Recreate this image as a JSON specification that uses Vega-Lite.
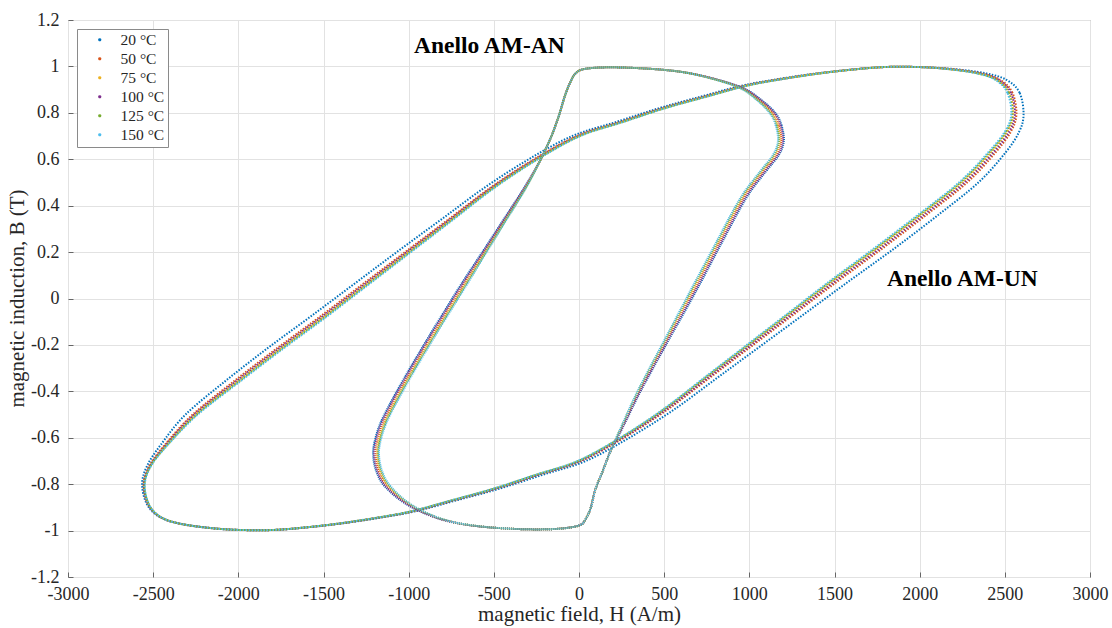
{
  "$schema": "https://vega.github.io/schema/vega-lite/v6.json",
  "width": 1022,
  "height": 557,
  "autosize": {"type": "none"},
  "padding": {"left": 68, "top": 20, "right": 22, "bottom": 51},
  "background": "white",
  "config": {
    "font": "Liberation Serif",
    "view": {"stroke": "#8a8a8a", "strokeWidth": 1},
    "axis": {
      "grid": true,
      "gridColor": "#e2e2e2",
      "gridWidth": 1,
      "domain": false,
      "tickColor": "#666666",
      "tickSize": -5,
      "labelPadding": 9,
      "labelFont": "Liberation Serif",
      "labelFontSize": 18,
      "labelColor": "#262626",
      "labelFlush": false,
      "labelOverlap": false,
      "labelBound": false,
      "titleFont": "Liberation Serif",
      "titleFontSize": 21,
      "titleFontWeight": "normal",
      "titleColor": "#262626"
    }
  },
  "datasets": {
    "loops": [
      {"L":"UN","i":0,"B":0.794,"20 °C":2610,"50 °C":2568,"75 °C":2550,"100 °C":2559,"125 °C":2544,"150 °C":2538},
      {"L":"UN","i":1,"B":0.886,"20 °C":2587,"50 °C":2545,"75 °C":2527,"100 °C":2536,"125 °C":2521,"150 °C":2515},
      {"L":"UN","i":2,"B":0.94,"20 °C":2515,"50 °C":2477,"75 °C":2460,"100 °C":2468,"125 °C":2454,"150 °C":2449},
      {"L":"UN","i":3,"B":0.97,"20 °C":2390,"50 °C":2359,"75 °C":2345,"100 °C":2352,"125 °C":2340,"150 °C":2336},
      {"L":"UN","i":4,"B":0.99,"20 °C":2180,"50 °C":2159,"75 °C":2150,"100 °C":2155,"125 °C":2147,"150 °C":2144},
      {"L":"UN","i":5,"B":0.998,"20 °C":1970,"50 °C":1960,"75 °C":1955,"100 °C":1957,"125 °C":1953,"150 °C":1952},
      {"L":"UN","i":6,"B":0.996,"20 °C":1760,"50 °C":1760,"75 °C":1760,"100 °C":1760,"125 °C":1760,"150 °C":1760},
      {"L":"UN","i":7,"B":0.978,"20 °C":1490,"50 °C":1497,"75 °C":1500,"100 °C":1498,"125 °C":1501,"150 °C":1502},
      {"L":"UN","i":8,"B":0.955,"20 °C":1253,"50 °C":1267,"75 °C":1273,"100 °C":1270,"125 °C":1275,"150 °C":1277},
      {"L":"UN","i":9,"B":0.92,"20 °C":975,"50 °C":992,"75 °C":1000,"100 °C":996,"125 °C":1003,"150 °C":1005},
      {"L":"UN","i":10,"B":0.87,"20 °C":716,"50 °C":737,"75 °C":746,"100 °C":741,"125 °C":749,"150 °C":752},
      {"L":"UN","i":11,"B":0.82,"20 °C":470,"50 °C":491,"75 °C":500,"100 °C":495,"125 °C":503,"150 °C":506},
      {"L":"UN","i":12,"B":0.76,"20 °C":215,"50 °C":240,"75 °C":250,"100 °C":245,"125 °C":254,"150 °C":257},
      {"L":"UN","i":13,"B":0.70,"20 °C":-40,"50 °C":-12,"75 °C":0,"100 °C":-6,"125 °C":4,"150 °C":8},
      {"L":"UN","i":14,"B":0.60,"20 °C":-295,"50 °C":-264,"75 °C":-250,"100 °C":-257,"125 °C":-245,"150 °C":-241},
      {"L":"UN","i":15,"B":0.48,"20 °C":-550,"50 °C":-515,"75 °C":-500,"100 °C":-508,"125 °C":-495,"150 °C":-490},
      {"L":"UN","i":16,"B":0.34,"20 °C":-810,"50 °C":-768,"75 °C":-750,"100 °C":-759,"125 °C":-744,"150 °C":-738},
      {"L":"UN","i":17,"B":0.20,"20 °C":-1070,"50 °C":-1021,"75 °C":-1000,"100 °C":-1011,"125 °C":-993,"150 °C":-986},
      {"L":"UN","i":18,"B":0.06,"20 °C":-1325,"50 °C":-1273,"75 °C":-1250,"100 °C":-1261,"125 °C":-1242,"150 °C":-1235},
      {"L":"UN","i":19,"B":-0.08,"20 °C":-1580,"50 °C":-1524,"75 °C":-1500,"100 °C":-1512,"125 °C":-1492,"150 °C":-1484},
      {"L":"UN","i":20,"B":-0.215,"20 °C":-1830,"50 °C":-1774,"75 °C":-1750,"100 °C":-1762,"125 °C":-1742,"150 °C":-1734},
      {"L":"UN","i":21,"B":-0.355,"20 °C":-2075,"50 °C":-2023,"75 °C":-2000,"100 °C":-2011,"125 °C":-1992,"150 °C":-1985},
      {"L":"UN","i":22,"B":-0.50,"20 °C":-2310,"50 °C":-2268,"75 °C":-2250,"100 °C":-2259,"125 °C":-2244,"150 °C":-2238},
      {"L":"UN","i":23,"B":-0.63,"20 °C":-2455,"50 °C":-2431,"75 °C":-2420,"100 °C":-2425,"125 °C":-2416,"150 °C":-2413},
      {"L":"UN","i":24,"B":-0.72,"20 °C":-2535,"50 °C":-2521,"75 °C":-2515,"100 °C":-2518,"125 °C":-2513,"150 °C":-2511},
      {"L":"UN","i":25,"B":-0.80,"20 °C":-2565,"50 °C":-2556,"75 °C":-2552,"100 °C":-2554,"125 °C":-2551,"150 °C":-2549},
      {"L":"UN","i":26,"B":-0.886,"20 °C":-2537,"50 °C":-2530,"75 °C":-2527,"100 °C":-2529,"125 °C":-2526,"150 °C":-2525},
      {"L":"UN","i":27,"B":-0.94,"20 °C":-2465,"50 °C":-2462,"75 °C":-2460,"100 °C":-2461,"125 °C":-2460,"150 °C":-2459},
      {"L":"UN","i":28,"B":-0.97,"20 °C":-2345,"50 °C":-2345,"75 °C":-2345,"100 °C":-2345,"125 °C":-2345,"150 °C":-2345},
      {"L":"UN","i":29,"B":-0.99,"20 °C":-2150,"50 °C":-2150,"75 °C":-2150,"100 °C":-2150,"125 °C":-2150,"150 °C":-2150},
      {"L":"UN","i":30,"B":-0.998,"20 °C":-1955,"50 °C":-1955,"75 °C":-1955,"100 °C":-1955,"125 °C":-1955,"150 °C":-1955},
      {"L":"UN","i":31,"B":-0.996,"20 °C":-1755,"50 °C":-1758,"75 °C":-1760,"100 °C":-1759,"125 °C":-1761,"150 °C":-1761},
      {"L":"UN","i":32,"B":-0.978,"20 °C":-1490,"50 °C":-1497,"75 °C":-1500,"100 °C":-1498,"125 °C":-1501,"150 °C":-1502},
      {"L":"UN","i":33,"B":-0.955,"20 °C":-1258,"50 °C":-1268,"75 °C":-1273,"100 °C":-1271,"125 °C":-1275,"150 °C":-1276},
      {"L":"UN","i":34,"B":-0.92,"20 °C":-980,"50 °C":-994,"75 °C":-1000,"100 °C":-997,"125 °C":-1002,"150 °C":-1004},
      {"L":"UN","i":35,"B":-0.87,"20 °C":-721,"50 °C":-738,"75 °C":-746,"100 °C":-742,"125 °C":-749,"150 °C":-751},
      {"L":"UN","i":36,"B":-0.82,"20 °C":-470,"50 °C":-491,"75 °C":-500,"100 °C":-495,"125 °C":-503,"150 °C":-506},
      {"L":"UN","i":37,"B":-0.76,"20 °C":-215,"50 °C":-240,"75 °C":-250,"100 °C":-245,"125 °C":-254,"150 °C":-257},
      {"L":"UN","i":38,"B":-0.70,"20 °C":40,"50 °C":12,"75 °C":0,"100 °C":6,"125 °C":-4,"150 °C":-8},
      {"L":"UN","i":39,"B":-0.60,"20 °C":295,"50 °C":264,"75 °C":250,"100 °C":257,"125 °C":245,"150 °C":241},
      {"L":"UN","i":40,"B":-0.48,"20 °C":555,"50 °C":517,"75 °C":500,"100 °C":508,"125 °C":494,"150 °C":489},
      {"L":"UN","i":41,"B":-0.34,"20 °C":815,"50 °C":770,"75 °C":750,"100 °C":760,"125 °C":743,"150 °C":737},
      {"L":"UN","i":42,"B":-0.20,"20 °C":1075,"50 °C":1023,"75 °C":1000,"100 °C":1011,"125 °C":992,"150 °C":985},
      {"L":"UN","i":43,"B":-0.06,"20 °C":1335,"50 °C":1276,"75 °C":1250,"100 °C":1263,"125 °C":1241,"150 °C":1233},
      {"L":"UN","i":44,"B":0.08,"20 °C":1595,"50 °C":1529,"75 °C":1500,"100 °C":1514,"125 °C":1490,"150 °C":1481},
      {"L":"UN","i":45,"B":0.215,"20 °C":1850,"50 °C":1780,"75 °C":1750,"100 °C":1765,"125 °C":1740,"150 °C":1730},
      {"L":"UN","i":46,"B":0.355,"20 °C":2100,"50 °C":2030,"75 °C":2000,"100 °C":2015,"125 °C":1990,"150 °C":1980},
      {"L":"UN","i":47,"B":0.50,"20 °C":2345,"50 °C":2279,"75 °C":2250,"100 °C":2264,"125 °C":2240,"150 °C":2231},
      {"L":"UN","i":48,"B":0.63,"20 °C":2505,"50 °C":2446,"75 °C":2420,"100 °C":2433,"125 °C":2411,"150 °C":2403},
      {"L":"UN","i":49,"B":0.72,"20 °C":2585,"50 °C":2536,"75 °C":2515,"100 °C":2526,"125 °C":2508,"150 °C":2501},
      {"L":"AN","i":0,"B":0.68,"20 °C":1203,"50 °C":1188,"75 °C":1178,"100 °C":1198,"125 °C":1173,"150 °C":1168},
      {"L":"AN","i":1,"B":0.745,"20 °C":1190,"50 °C":1175,"75 °C":1165,"100 °C":1185,"125 °C":1160,"150 °C":1155},
      {"L":"AN","i":2,"B":0.795,"20 °C":1158,"50 °C":1143,"75 °C":1133,"100 °C":1153,"125 °C":1128,"150 °C":1123},
      {"L":"AN","i":3,"B":0.853,"20 °C":1075,"50 °C":1063,"75 °C":1055,"100 °C":1071,"125 °C":1051,"150 °C":1047},
      {"L":"AN","i":4,"B":0.911,"20 °C":950,"50 °C":942,"75 °C":937,"100 °C":947,"125 °C":934,"150 °C":932},
      {"L":"AN","i":5,"B":0.962,"20 °C":708,"50 °C":705,"75 °C":703,"100 °C":707,"125 °C":702,"150 °C":701},
      {"L":"AN","i":6,"B":0.985,"20 °C":500,"50 °C":500,"75 °C":500,"100 °C":500,"125 °C":500,"150 °C":500},
      {"L":"AN","i":7,"B":0.996,"20 °C":215,"50 °C":215,"75 °C":215,"100 °C":215,"125 °C":215,"150 °C":215},
      {"L":"AN","i":8,"B":0.99,"20 °C":40,"50 °C":40,"75 °C":40,"100 °C":40,"125 °C":40,"150 °C":40},
      {"L":"AN","i":9,"B":0.97,"20 °C":-20,"50 °C":-20,"75 °C":-20,"100 °C":-20,"125 °C":-20,"150 °C":-20},
      {"L":"AN","i":10,"B":0.93,"20 °C":-52,"50 °C":-52,"75 °C":-52,"100 °C":-52,"125 °C":-52,"150 °C":-52},
      {"L":"AN","i":11,"B":0.875,"20 °C":-82,"50 °C":-82,"75 °C":-82,"100 °C":-82,"125 °C":-82,"150 °C":-82},
      {"L":"AN","i":12,"B":0.79,"20 °C":-117,"50 °C":-117,"75 °C":-117,"100 °C":-117,"125 °C":-117,"150 °C":-117},
      {"L":"AN","i":13,"B":0.71,"20 °C":-156,"50 °C":-156,"75 °C":-156,"100 °C":-156,"125 °C":-156,"150 °C":-156},
      {"L":"AN","i":14,"B":0.645,"20 °C":-195,"50 °C":-195,"75 °C":-195,"100 °C":-195,"125 °C":-195,"150 °C":-195},
      {"L":"AN","i":15,"B":0.586,"20 °C":-234,"50 °C":-234,"75 °C":-234,"100 °C":-234,"125 °C":-234,"150 °C":-234},
      {"L":"AN","i":16,"B":0.479,"20 °C":-320,"50 °C":-315,"75 °C":-312,"100 °C":-318,"125 °C":-310,"150 °C":-309},
      {"L":"AN","i":17,"B":0.34,"20 °C":-443,"50 °C":-435,"75 °C":-430,"100 °C":-440,"125 °C":-427,"150 °C":-425},
      {"L":"AN","i":18,"B":0.203,"20 °C":-565,"50 °C":-554,"75 °C":-547,"100 °C":-561,"125 °C":-543,"150 °C":-540},
      {"L":"AN","i":19,"B":0.065,"20 °C":-689,"50 °C":-674,"75 °C":-664,"100 °C":-684,"125 °C":-659,"150 °C":-654},
      {"L":"AN","i":20,"B":-0.073,"20 °C":-806,"50 °C":-791,"75 °C":-781,"100 °C":-801,"125 °C":-776,"150 °C":-771},
      {"L":"AN","i":21,"B":-0.21,"20 °C":-920,"50 °C":-905,"75 °C":-895,"100 °C":-915,"125 °C":-890,"150 °C":-885},
      {"L":"AN","i":22,"B":-0.335,"20 °C":-1020,"50 °C":-1005,"75 °C":-995,"100 °C":-1015,"125 °C":-990,"150 °C":-985},
      {"L":"AN","i":23,"B":-0.44,"20 °C":-1100,"50 °C":-1085,"75 °C":-1075,"100 °C":-1095,"125 °C":-1070,"150 °C":-1065},
      {"L":"AN","i":24,"B":-0.535,"20 °C":-1165,"50 °C":-1150,"75 °C":-1140,"100 °C":-1160,"125 °C":-1135,"150 °C":-1130},
      {"L":"AN","i":25,"B":-0.615,"20 °C":-1200,"50 °C":-1185,"75 °C":-1175,"100 °C":-1195,"125 °C":-1170,"150 °C":-1165},
      {"L":"AN","i":26,"B":-0.675,"20 °C":-1209,"50 °C":-1194,"75 °C":-1184,"100 °C":-1204,"125 °C":-1179,"150 °C":-1174},
      {"L":"AN","i":27,"B":-0.745,"20 °C":-1190,"50 °C":-1175,"75 °C":-1165,"100 °C":-1185,"125 °C":-1160,"150 °C":-1155},
      {"L":"AN","i":28,"B":-0.81,"20 °C":-1140,"50 °C":-1125,"75 °C":-1115,"100 °C":-1135,"125 °C":-1110,"150 °C":-1105},
      {"L":"AN","i":29,"B":-0.886,"20 °C":-1014,"50 °C":-1003,"75 °C":-996,"100 °C":-1010,"125 °C":-992,"150 °C":-989},
      {"L":"AN","i":30,"B":-0.947,"20 °C":-830,"50 °C":-824,"75 °C":-820,"100 °C":-828,"125 °C":-818,"150 °C":-816},
      {"L":"AN","i":31,"B":-0.978,"20 °C":-630,"50 °C":-627,"75 °C":-625,"100 °C":-629,"125 °C":-624,"150 °C":-623},
      {"L":"AN","i":32,"B":-0.993,"20 °C":-371,"50 °C":-371,"75 °C":-371,"100 °C":-371,"125 °C":-371,"150 °C":-371},
      {"L":"AN","i":33,"B":-0.993,"20 °C":-137,"50 °C":-137,"75 °C":-137,"100 °C":-137,"125 °C":-137,"150 °C":-137},
      {"L":"AN","i":34,"B":-0.978,"20 °C":0,"50 °C":0,"75 °C":0,"100 °C":0,"125 °C":0,"150 °C":0},
      {"L":"AN","i":35,"B":-0.95,"20 °C":39,"50 °C":39,"75 °C":39,"100 °C":39,"125 °C":39,"150 °C":39},
      {"L":"AN","i":36,"B":-0.90,"20 °C":70,"50 °C":70,"75 °C":70,"100 °C":70,"125 °C":70,"150 °C":70},
      {"L":"AN","i":37,"B":-0.825,"20 °C":95,"50 °C":95,"75 °C":95,"100 °C":95,"125 °C":95,"150 °C":95},
      {"L":"AN","i":38,"B":-0.748,"20 °C":137,"50 °C":137,"75 °C":137,"100 °C":137,"125 °C":137,"150 °C":137},
      {"L":"AN","i":39,"B":-0.656,"20 °C":186,"50 °C":186,"75 °C":186,"100 °C":186,"125 °C":186,"150 °C":186},
      {"L":"AN","i":40,"B":-0.548,"20 °C":262,"50 °C":257,"75 °C":254,"100 °C":260,"125 °C":252,"150 °C":251},
      {"L":"AN","i":41,"B":-0.395,"20 °C":365,"50 °C":357,"75 °C":352,"100 °C":362,"125 °C":349,"150 °C":347},
      {"L":"AN","i":42,"B":-0.18,"20 °C":526,"50 °C":515,"75 °C":508,"100 °C":522,"125 °C":504,"150 °C":501},
      {"L":"AN","i":43,"B":0.034,"20 °C":689,"50 °C":674,"75 °C":664,"100 °C":684,"125 °C":659,"150 °C":654},
      {"L":"AN","i":44,"B":0.249,"20 °C":845,"50 °C":830,"75 °C":820,"100 °C":840,"125 °C":815,"150 °C":810},
      {"L":"AN","i":45,"B":0.433,"20 °C":982,"50 °C":967,"75 °C":957,"100 °C":977,"125 °C":952,"150 °C":947},
      {"L":"AN","i":46,"B":0.545,"20 °C":1095,"50 °C":1080,"75 °C":1070,"100 °C":1090,"125 °C":1065,"150 °C":1060},
      {"L":"AN","i":47,"B":0.62,"20 °C":1175,"50 °C":1160,"75 °C":1150,"100 °C":1170,"125 °C":1145,"150 °C":1140}
    ],
    "notes": [
      {"H": -969, "B": 1.088, "text": "Anello AM-AN"},
      {"H": 1808, "B": 0.082, "text": "Anello AM-UN"}
    ]
  },
  "encoding": {
    "x": {
      "field": "H", "type": "quantitative",
      "scale": {"domain": [-3000, 3000], "nice": false, "zero": false},
      "axis": {
        "title": "magnetic field, H (A/m)",
        "values": [-3000, -2500, -2000, -1500, -1000, -500, 0, 500, 1000, 1500, 2000, 2500, 3000],
        "labelExpr": "datum.value < 0 ? '-' + format(-datum.value, 'd') : format(datum.value, 'd')",
        "labelPadding": 13,
        "titleY": 37,
        "titleBaseline": "middle"
      }
    },
    "y": {
      "field": "B", "type": "quantitative",
      "scale": {"domain": [-1.2, 1.2], "nice": false, "zero": false},
      "axis": {
        "title": "magnetic induction, B (T)",
        "values": [-1.2, -1, -0.8, -0.6, -0.4, -0.2, 0, 0.2, 0.4, 0.6, 0.8, 1, 1.2],
        "labelExpr": "datum.value < 0 ? '-' + format(-datum.value, '~g') : format(datum.value, '~g')",
        "labelPadding": 14,
        "titleX": -51,
        "titleY": 278,
        "titleAlign": "center",
        "titleBaseline": "middle"
      }
    }
  },
  "layer": [
    {
      "data": {"name": "loops"},
      "transform": [
        {"filter": "datum.L === 'UN'"},
        {"fold": ["20 °C", "50 °C", "75 °C", "100 °C", "125 °C", "150 °C"], "as": ["T", "H"]}
      ],
      "mark": {"type": "line", "interpolate": "cardinal-closed", "strokeWidth": 2, "strokeDash": [1.5, 1.5], "strokeCap": "butt"},
      "encoding": {
        "color": {
          "field": "T", "type": "nominal",
          "scale": {
            "domain": ["20 °C", "50 °C", "75 °C", "100 °C", "125 °C", "150 °C"],
            "range": ["#0072BD", "#D95319", "#EDB120", "#7E2F8E", "#77AC30", "#4DBEEE"]
          },
          "legend": {
            "title": null,
            "orient": "none",
            "legendX": 9,
            "legendY": 9,
            "fillColor": "white",
            "strokeColor": "#8a8a8a",
            "padding": 3,
            "symbolType": "circle",
            "symbolSize": 3,
            "symbolStrokeWidth": 1.5,
            "symbolDash": [],
            "symbolOffset": 12,
            "labelOffset": 13,
            "labelFont": "Liberation Serif",
            "labelFontSize": 15.5,
            "labelColor": "#262626",
            "rowPadding": 2
          }
        },
        "order": {"field": "i", "type": "quantitative"}
      }
    },
    {
      "data": {"name": "loops"},
      "transform": [
        {"filter": "datum.L === 'AN'"},
        {"fold": ["20 °C", "50 °C", "75 °C", "100 °C", "125 °C", "150 °C"], "as": ["T", "H"]}
      ],
      "mark": {"type": "line", "interpolate": "cardinal-closed", "strokeWidth": 2, "strokeDash": [1, 1], "strokeCap": "butt"},
      "encoding": {
        "color": {"field": "T", "type": "nominal"},
        "order": {"field": "i", "type": "quantitative"}
      }
    },
    {
      "data": {"name": "notes"},
      "mark": {"type": "text", "align": "left", "baseline": "middle", "font": "Liberation Serif", "fontWeight": "bold", "fontSize": 23.5, "color": "#000000"},
      "encoding": {
        "text": {"field": "text"}
      }
    }
  ]
}
